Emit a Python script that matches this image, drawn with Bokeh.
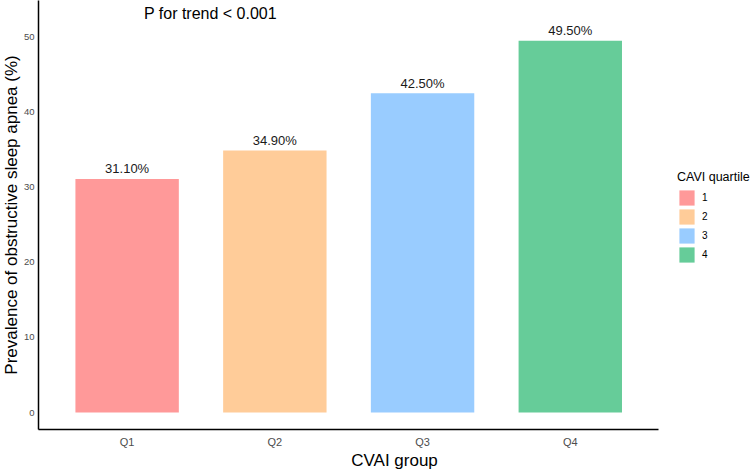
from bokeh.plotting import figure
from bokeh.models import ColumnDataSource, Range1d, Legend, LegendItem, Label, FixedTicker
from bokeh.core.properties import value
from bokeh.embed import file_html
from bokeh.resources import INLINE

groups = ["Q1", "Q2", "Q3", "Q4"]
quartiles = ["1", "2", "3", "4"]
prevalence = [31.1, 34.9, 42.5, 49.5]
bar_labels = ["31.10%", "34.90%", "42.50%", "49.50%"]
colors = ["#FF9999", "#FFCC99", "#99CCFF", "#66CC99"]
y_ticks = [0, 10, 20, 30, 40, 50]
title_text = "P for trend < 0.001"
legend_title = "CAVI quartile"
x_title = "CVAI group"
y_title = "Prevalence of obstructive sleep apnea (%)"

FONT = "Liberation Sans"

# category positions (centre of each slot, like a categorical axis)
xpos = [i + 0.5 for i in range(len(groups))]

src = ColumnDataSource(dict(x=xpos, group=groups, quartile=quartiles, value=prevalence,
                            label=bar_labels, color=colors))

p = figure(width=753, height=472,
           x_range=Range1d(-0.1, 4.72),
           y_range=Range1d(-2.26, 54.86),
           output_backend="svg", toolbar_location=None,
           min_border_left=41, min_border_right=0, min_border_top=0, min_border_bottom=43)
p.styles = {"margin-left": "-3px"}

bars = p.vbar(x="x", top="value", bottom=0, width=0.7, fill_color="color",
              line_color=None, source=src)

p.text(x="x", y="value", text="label", source=src, text_align="center",
       text_baseline="alphabetic", y_offset=-10, text_font=value(FONT),
       text_font_size="13px", text_color="#1a1a1a")

p.add_layout(Label(x=1.064, y=53.13, text=title_text, text_align="center",
                   text_baseline="middle", text_font=FONT, text_font_size="16px",
                   text_color="#000000"))

items = [LegendItem(label=q, renderers=[bars], index=i) for i, q in enumerate(quartiles)]
legend = Legend(items=items, location=(639, 165), title=legend_title,
                title_text_font=FONT, title_text_font_size="12.5px", title_text_color="#000000",
                title_text_font_style="normal", title_standoff=4,
                label_text_font=FONT, label_text_font_size="10px", label_text_color="#000000",
                glyph_width=19, glyph_height=19, label_height=19, label_standoff=6,
                spacing=0, padding=0, margin=0, border_line_color=None,
                background_fill_alpha=0)
p.add_layout(legend)

p.xaxis.axis_label = x_title
p.yaxis.axis_label = y_title
p.xaxis.ticker = FixedTicker(ticks=xpos)
p.xaxis.major_label_overrides = {x: g for x, g in zip(xpos, groups)}
p.xaxis.bounds = (-0.1, 4.1)
p.yaxis.ticker = y_ticks
for ax in (p.xaxis, p.yaxis):
    ax.axis_label_text_font = FONT
    ax.axis_label_text_font_size = "17px"
    ax.axis_label_text_font_style = "normal"
    ax.axis_label_text_color = "#000000"
    ax.major_label_text_font = FONT
    ax.major_label_text_color = "#4D4D4D"
    ax.major_tick_out = 0
    ax.major_tick_in = 0
    ax.minor_tick_out = 0
    ax.minor_tick_in = 0
    ax.axis_line_color = "#000000"
    ax.axis_line_width = 1.5
p.xaxis.major_label_text_font_size = "11px"
p.yaxis.major_label_text_font_size = "9.5px"
p.xaxis.major_label_standoff = 6
p.yaxis.major_label_standoff = 4
p.xaxis.axis_label_standoff = 0
p.yaxis.axis_label_standoff = 0

p.xgrid.grid_line_color = None
p.ygrid.grid_line_color = None
p.outline_line_color = None

open("out.html", "w").write(file_html(p, INLINE))
